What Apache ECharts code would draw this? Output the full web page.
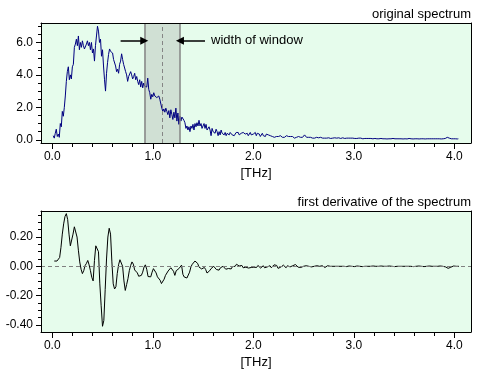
<!DOCTYPE html>
<html><head><meta charset="utf-8">
<script src="https://cdn.jsdelivr.net/npm/echarts@6/dist/echarts.min.js"></script>
<style>html,body{margin:0;padding:0;background:#fff}#c{width:482px;height:374px}</style>
</head><body><div id="c"></div>
<script>
// ---------- data ----------
const titleTop = 'original spectrum';
const titleBottom = 'first derivative of the spectrum';
const xName = '[THz]';
const windowLabel = 'width of window';

const xMajor = [0, 1, 2, 3, 4];
const xMinor = [0,0.2,0.4,0.6,0.8,1,1.2,1.4,1.6,1.8,2,2.2,2.4,2.6,2.8,3,3.2,3.4,3.6,3.8,4];
const specYMajor = [0, 2, 4, 6];
const specYMinor = [0,0.5,1,1.5,2,2.5,3,3.5,4,4.5,5,5.5,6,6.5,7];
const derivYMajor = [-0.4, -0.2, 0, 0.2];
const derivYMinor = [-0.4,-0.35,-0.3,-0.25,-0.2,-0.15,-0.1,-0.05,0,0.05,0.1,0.15,0.2,0.25,0.3,0.35];

const windowEdges = [0.915, 1.27];
const windowCenter = 1.093;
const arrowLevel = 6.1;
const arrowLeftStart = 0.68;
const arrowRightStart = 1.52;
const textAt = 1.58;

// spectrum: frequency grid start/step (THz) and amplitudes
const specStart = 0.01, specStep = 0.01;
const spectrum = [
0.25,0.1,0.4,0.65,0.2,0.35,0.15,1.0,0.8,1.75,
1.45,2.0,2.7,3.6,4.2,4.5,3.7,4.0,3.75,4.5,
4.65,5.7,5.9,6.2,5.8,6.4,5.55,6.0,5.7,6.1,
5.8,5.6,5.5,5.9,6.1,5.8,6.0,5.55,6.0,5.35,
5.6,4.85,5.8,6.4,7.0,6.7,6.0,6.2,5.15,5.55,
4.55,3.7,3.0,4.1,4.75,5.25,5.6,5.45,5.45,5.35,
4.95,4.85,4.55,4.2,4.35,4.1,4.65,4.85,5.3,4.95,
4.65,4.75,4.2,4.0,3.6,3.9,3.95,4.2,4.0,3.75,
3.9,4.1,3.7,3.9,3.6,3.4,3.7,3.25,3.6,3.2,
3.5,3.3,3.4,3.25,3.8,3.1,2.9,2.5,2.8,2.65,
2.9,2.7,2.8,2.6,2.65,2.7,2.5,2.45,1.95,1.75,
1.9,1.7,1.95,1.75,1.55,1.8,1.35,1.85,1.55,1.25,
1.7,1.35,1.95,1.15,1.65,0.95,1.45,1.15,1.4,1.3,
1.2,1.05,0.7,0.85,0.6,0.8,0.5,0.85,0.7,0.95,
0.6,1.0,0.8,1.05,0.85,1.2,0.85,1.0,0.7,0.85,
1.0,0.7,0.95,0.6,0.7,0.8,0.6,0.25,0.7,0.5,
0.6,0.4,0.65,0.5,0.25,0.5,0.3,0.6,0.4,0.5,
0.3,0.45,0.25,0.4,0.45,0.3,0.45,0.5,0.3,0.35,
0.25,0.35,0.45,0.35,0.45,0.3,
0.35,0.4,0.3,0.45,0.5,0.35,0.3,0.4,0.25,0.35,0.45,0.3,0.4,0.35,
0.3,0.45,0.25,0.4,0.3,0.35,0.2,0.3,0.4,0.25,0.3,0.2,0.35,0.25,
0.3,0.2,0.25,0.3,0.2,0.25,0.15,0.25,0.2,0.3,0.2,0.15,0.25,0.2,0.15,0.2,
0.15,0.2,0.25,0.3,0.2,0.15,0.2,0.15,0.2,0.15,0.1,0.2,0.15,0.15,0.2,0.1,0.15,0.2,0.15,0.25,0.3,0.2,0.15,0.1,
0.15,0.1,0.15,0.12,0.1,0.15,0.1,0.12,0.15,0.1,
0.12,0.1,0.15,0.1,0.1,0.12,0.1,0.15,0.1,0.1,
0.12,0.1,0.08,0.12,0.1,0.1,0.12,0.08,0.1,0.1,
0.12,0.1,0.08,0.1,0.12,0.1,0.08,0.1,0.1,0.08,
0.1,0.12,0.1,0.08,0.1,0.1,0.08,0.1,0.08,0.1,
0.1,0.08,0.1,
0.08,0.06,0.08,0.08,0.06,0.08,0.1,0.08,0.06,0.08,
0.08,0.06,0.06,0.08,0.08,0.06,0.08,0.06,0.06,0.08,
0.08,0.06,0.05,0.06,0.06,0.05,0.06,0.06,0.05,0.06,
0.06,0.08,0.06,0.06,0.05,0.06,0.06,0.06,0.08,0.06,
0.06,0.05,0.06,0.06,0.06,0.05,0.06,0.08,0.06,0.06,
0.06,0.05,0.05,0.06,0.06,0.06,0.06,0.05,0.06,0.06,
0.06,0.06,0.05,0.05,0.06,0.06,0.06,0.06,0.05,0.06,
0.06,0.06,0.06,0.06,0.05,0.06,0.06,0.06,0.06,0.05,
0.06,0.06,0.06,
0.08,0.1,0.15,0.12,0.1,0.08,0.06,
0.06,0.06,0.05,0.06,0.06,0.05,0.06
];

// first derivative: its own frequency grid
const derivStart = 0.02, derivStep = 0.01333;
const derivative = [
0.036,0.036,0.036,0.038,0.06,0.13,0.22,0.29,0.34,0.36,
0.32,0.22,0.14,0.15,0.22,0.27,0.28,0.2,0.11,0.03,
-0.02,-0.05,-0.03,0.005,0.02,0.04,0.01,-0.03,-0.075,-0.10,
0.04,0.14,0.135,0.1,-0.12,-0.27,-0.41,-0.37,-0.16,0.05,
0.2,0.26,0.22,0.03,-0.12,-0.155,-0.14,-0.05,0.01,0.045,
0.054,0,-0.1,-0.165,-0.125,-0.085,-0.03,0.005,0.03,0.015,
-0.025,-0.025,-0.045,-0.068,-0.075,-0.062,-0.04,-0.005,0.01,-0.02,
-0.07,-0.082,-0.072,-0.04,-0.016,-0.018,-0.045,-0.072,-0.07,-0.095,
-0.118,-0.112,-0.088,-0.062,-0.05,-0.032,-0.04,-0.01,-0.022,-0.034,
-0.062,-0.03,-0.028,-0.016,-0.024,0.008,-0.055,-0.073,-0.066,-0.08,
-0.072,-0.04,-0.004,0.014,0.024,0.036,0.043,0.02,-0.005,0,
-0.018,-0.015,-0.008,-0.022,-0.046,-0.038,-0.03,-0.016,-0.008,0,
0,-0.022,-0.03,-0.026,-0.01,0,0,-0.012,-0.02,-0.008,
-0.015,-0.008,-0.018,-0.002,-0.006,0,0.014,0.012,0.002,0,
0.006,-0.01,-0.016,-0.006,0.004,-0.012,-0.018,-0.008,0.004,-0.006,
-0.015,-0.008,0.006,-0.004,-0.012,-0.006,0.004,-0.01,-0.016,-0.004,
0.006,0.004,-0.01,-0.004,0.01,0.018,0.006,-0.014,-0.02,-0.006,
0.004,0.008,-0.004,-0.01,0.004,0.006,-0.004,-0.006,0.004,0.006,
0.012,0.006,-0.006,-0.016,-0.008,0.004,0,-0.006,0.004,0.006,
0,-0.006,-0.004,0.004,0,-0.006,0.004,0.006,0,-0.004,
0.004,0,-0.008,0,0.004,-0.004,0,0.004,0,-0.004,
0,0.002,0,-0.002,0,0.002,0,0,-0.002,0,
0.002,0,0,0,-0.002,0,0.002,0,0,0,
-0.002,0,0,0.002,0,-0.002,0,0,0.002,0,
0,-0.002,0,0,0.002,0,0,-0.002,0,0,
0.002,0,0,0,-0.002,0,0,0.002,0,0,
0,-0.002,0,0,0,0.002,0,0,-0.002,0,
0,0,0.002,0,0,0,-0.002,0,0,0,
0.002,0,0,0,0,-0.002,0,0,0.002,0,
0,0,-0.004,-0.01,-0.014,-0.012,-0.006,0,0.002,0,
0,0,0
];

// ---------- chart ----------
const FONT = '"Liberation Sans", Arial, sans-serif';
const X_MIN = -0.112, X_MAX = 4.166;
const specPairs = spectrum.map((v, i) => [+(specStart + i * specStep).toFixed(4), v]);
const derivPairs = derivative.map((v, i) => [+(derivStart + i * derivStep).toFixed(4), v]);

function xAxes(g) {
  return [
    { type:'value', gridIndex:g, min:X_MIN, max:X_MAX, position:'bottom', z:10,
      axisLine:{show:true, onZero:false, lineStyle:{color:'#000', width:1}},
      axisTick:{show:true, customValues:xMajor, length:6, lineStyle:{color:'#000'}},
      axisLabel:{customValues:xMajor, formatter:v => v.toFixed(1), margin:8, color:'#000', fontFamily:FONT, fontSize:12},
      splitLine:{show:false},
      name:xName, nameLocation:'middle', nameGap:24,
      nameTextStyle:{color:'#000', fontFamily:FONT, fontSize:13} },
    { type:'value', gridIndex:g, min:X_MIN, max:X_MAX, position:'bottom', z:10,
      axisLine:{show:false, onZero:false},
      axisTick:{show:true, customValues:xMinor, length:4, lineStyle:{color:'#000'}},
      axisLabel:{show:false}, splitLine:{show:false} },
    { type:'value', gridIndex:g, min:X_MIN, max:X_MAX, position:'top', z:10,
      axisLine:{show:true, onZero:false, lineStyle:{color:'#000', width:1}},
      axisTick:{show:false}, axisLabel:{show:false}, splitLine:{show:false} }
  ];
}
function yAxes(g, mn, mx, major, minor, digits) {
  return [
    { type:'value', gridIndex:g, min:mn, max:mx, position:'left', z:10,
      axisLine:{show:true, onZero:false, lineStyle:{color:'#000', width:1}},
      axisTick:{show:true, customValues:major, length:5, lineStyle:{color:'#000'}},
      axisLabel:{customValues:major, formatter:v => v.toFixed(digits), margin:8, color:'#000', fontFamily:FONT, fontSize:12},
      splitLine:{show:false} },
    { type:'value', gridIndex:g, min:mn, max:mx, position:'left', z:10,
      axisLine:{show:false, onZero:false},
      axisTick:{show:true, customValues:minor, length:3, lineStyle:{color:'#000'}},
      axisLabel:{show:false}, splitLine:{show:false} },
    { type:'value', gridIndex:g, min:mn, max:mx, position:'right', z:10,
      axisLine:{show:true, onZero:false, lineStyle:{color:'#000', width:1}},
      axisTick:{show:false}, axisLabel:{show:false}, splitLine:{show:false} }
  ];
}

const chart = echarts.init(document.getElementById('c'), null, {renderer:'canvas'});
const bg = '#e6fcec';
chart.setOption({
  animation:false,
  backgroundColor:'#fff',
  title:[
    {text:titleTop, right:11, top:8, padding:0, textStyle:{fontSize:13, fontWeight:'normal', color:'#000', fontFamily:FONT}},
    {text:titleBottom, right:11, top:196, padding:0, textStyle:{fontSize:13, fontWeight:'normal', color:'#000', fontFamily:FONT}}
  ],
  grid:[
    {left:41, top:23, width:430, height:120, show:true, backgroundColor:bg, borderWidth:0},
    {left:41, top:211, width:430, height:121, show:true, backgroundColor:bg, borderWidth:0}
  ],
  xAxis:[...xAxes(0), ...xAxes(1)],
  yAxis:[...yAxes(0, -0.2, 7.2, specYMajor, specYMinor, 1), ...yAxes(1, -0.449, 0.378, derivYMajor, derivYMinor, 2)],
  series:[
    { type:'line', name:'window', xAxisIndex:0, yAxisIndex:0, data:[], z:1, silent:true,
      markArea:{silent:true, itemStyle:{color:'#d0e0d4', borderWidth:0},
        data:[[{xAxis:windowEdges[0]},{xAxis:windowEdges[1]}]]},
      markLine:{silent:true, symbol:'none', label:{show:false},
        data:[
          {xAxis:windowEdges[0], lineStyle:{color:'#858585', width:1.5, type:'solid'}},
          {xAxis:windowEdges[1], lineStyle:{color:'#858585', width:1.5, type:'solid'}},
          {xAxis:windowCenter, lineStyle:{color:'#858585', width:1, type:[4,3]}}
        ]} },
    { type:'line', name:'spectrum', xAxisIndex:0, yAxisIndex:0, data:specPairs, showSymbol:false,
      lineStyle:{color:'#000080', width:1}, z:3, silent:true },
    { type:'line', name:'arrows', xAxisIndex:0, yAxisIndex:0, data:[], z:4, silent:true,
      markLine:{silent:true, symbol:['none','triangle'], symbolSize:8, label:{show:false},
        itemStyle:{color:'#000'},
        lineStyle:{color:'#000', width:1.5, type:'solid'},
        data:[
          [{coord:[arrowLeftStart, arrowLevel]},{coord:[windowEdges[0], arrowLevel]}],
          [{coord:[arrowRightStart, arrowLevel]},{coord:[windowEdges[1], arrowLevel]}]
        ]},
      markPoint:{silent:true, symbol:'circle', symbolSize:0,
        label:{show:true, position:'right', distance:0, formatter:windowLabel, color:'#000', fontFamily:FONT, fontSize:13},
        data:[{coord:[textAt, arrowLevel]}]} },
    { type:'line', name:'zero', xAxisIndex:3, yAxisIndex:3, data:[], z:1, silent:true,
      markLine:{silent:true, symbol:'none', label:{show:false},
        lineStyle:{color:'#808080', width:1, type:[4,3]}, data:[{yAxis:0}]} },
    { type:'line', name:'derivative', xAxisIndex:3, yAxisIndex:3, data:derivPairs, showSymbol:false,
      lineStyle:{color:'#000', width:1}, z:3, silent:true }
  ]
});
</script></body></html>
